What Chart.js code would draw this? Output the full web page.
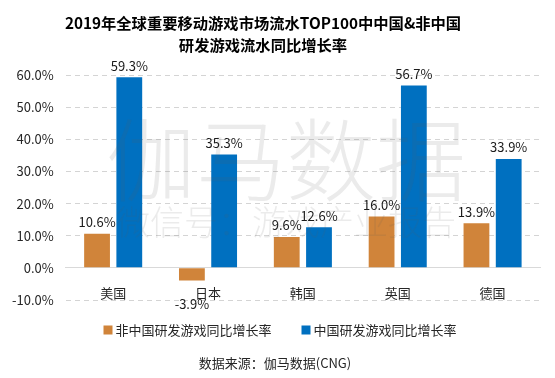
<!DOCTYPE html>
<html>
<head>
<meta charset="utf-8">
<script src="https://cdn.jsdelivr.net/npm/chart.js@4.4.1/dist/chart.umd.min.js"></script>
<style>
html,body{margin:0;padding:0;background:#fff;}
#wrap{width:555px;height:378px;position:relative;}
</style>
</head>
<body>
<div id="wrap"><canvas id="c" width="555" height="378"></canvas></div>
<script>
const categories = ['美国', '日本', '韩国', '英国', '德国'];
const nonChinaGrowth = [10.6, -3.9, 9.6, 16.0, 13.9];
const chinaGrowth = [59.3, 35.3, 12.6, 56.7, 33.9];
const seriesNames = ['非中国研发游戏同比增长率', '中国研发游戏同比增长率'];
const yTicks = [-10, 0, 10, 20, 30, 40, 50, 60];
const titleLines = ['2019年全球重要移动游戏市场流水TOP100中中国&非中国', '研发游戏流水同比增长率'];
const sourceText = '数据来源：伽马数据(CNG)';

const FONT = '"Noto Sans CJK SC", "Open Sans", sans-serif';

const valueLabels = {
  id: 'valueLabels',
  afterDatasetsDraw(chart) {
    const ctx = chart.ctx;
    ctx.save();
    ctx.font = '13px ' + FONT;
    ctx.fillStyle = '#1a1a1a';
    ctx.textAlign = 'center';
    chart.data.datasets.forEach((ds, i) => {
      const meta = chart.getDatasetMeta(i);
      meta.data.forEach((bar, j) => {
        const v = ds.data[j];
        const txt = v.toFixed(1) + '%';
        if (v >= 0) {
          ctx.textBaseline = 'bottom';
          ctx.fillText(txt, bar.x, bar.y - 5);
        } else {
          ctx.textBaseline = 'middle';
          ctx.fillText(txt, bar.x, bar.y + 24);
        }
      });
    });
    ctx.restore();
  }
};

const watermark = {
  id: 'watermark',
  afterDatasetsDraw(chart) {
    const ctx = chart.ctx;
    ctx.save();
    ctx.fillStyle = 'rgba(90,90,90,0.12)';
    ctx.textAlign = 'center';
    ctx.textBaseline = 'alphabetic';
    ctx.font = '300 90px ' + FONT;
    ctx.fillText('伽马数据', 286, 194);
    ctx.font = '300 34px ' + FONT;
    ctx.fillText('微信号：游戏产业报告', 286, 235);
    ctx.restore();
  }
};

const frameTexts = {
  id: 'frameTexts',
  afterDraw(chart) {
    const ctx = chart.ctx;
    ctx.save();
    // title
    ctx.fillStyle = '#000';
    ctx.textAlign = 'center';
    ctx.textBaseline = 'middle';
    ctx.font = 'bold 15.3px ' + FONT;
    ctx.fillText(titleLines[0], 263, 23);
    ctx.fillText(titleLines[1], 263, 45);
    // legend
    ctx.font = '13px ' + FONT;
    ctx.textAlign = 'left';
    const box = 9, boxGap = 3, itemGap = 30;
    const items = chart.data.datasets.map(ds => ({ label: ds.label, color: ds.backgroundColor, w: ctx.measureText(ds.label).width }));
    const total = items.reduce((s, it) => s + box + boxGap + it.w, 0) + itemGap * (items.length - 1);
    let x = 280 - total / 2;
    const ly = 330;
    items.forEach(it => {
      ctx.fillStyle = it.color;
      ctx.fillRect(x, ly - box / 2, box, box);
      x += box + boxGap;
      ctx.fillStyle = '#262626';
      ctx.fillText(it.label, x, ly);
      x += it.w + itemGap;
    });
    // source
    ctx.textAlign = 'center';
    ctx.fillStyle = '#262626';
    ctx.fillText(sourceText, 275, 363);
    ctx.restore();
  }
};

new Chart(document.getElementById('c'), {
  type: 'bar',
  data: {
    labels: categories,
    datasets: [
      { label: seriesNames[0], data: nonChinaGrowth, backgroundColor: '#D0843A' },
      { label: seriesNames[1], data: chinaGrowth, backgroundColor: '#0070C0' }
    ]
  },
  options: {
    responsive: false,
    animation: false,
    devicePixelRatio: 1,
    layout: { padding: { left: 0, right: 15, top: 75, bottom: 78 } },
    datasets: { bar: { categoryPercentage: 0.68, barPercentage: 0.8 } },
    plugins: {
      title: { display: false },
      legend: { display: false },
      tooltip: { enabled: false }
    },
    scales: {
      x: {
        position: { y: 0 },
        grid: { display: false },
        border: { display: true, color: '#d9d9d9', width: 1 },
        ticks: { color: '#262626', font: { family: FONT, size: 13 }, padding: 9 }
      },
      y: {
        min: -10, max: 60,
        afterBuildTicks(scale) { scale.ticks = yTicks.map(v => ({ value: v })); },
        grid: {
          color: (c) => c.tick && c.tick.value === 0 ? 'rgba(0,0,0,0)' : '#d4d4d4',
          drawTicks: false
        },
        border: { display: false, dash: [5, 4] },
        ticks: {
          color: '#262626',
          font: { family: FONT, size: 13 },
          padding: 12,
          callback: (v) => v.toFixed(1) + '%'
        }
      }
    }
  },
  plugins: [valueLabels, watermark, frameTexts]
});
</script>
</body>
</html>
